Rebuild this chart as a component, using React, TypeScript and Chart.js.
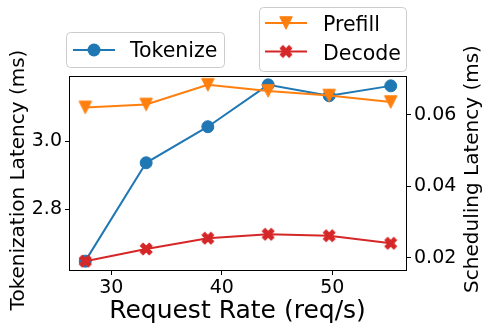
import React, { useEffect, useRef } from "react";
import { Chart, registerables } from "chart.js";

Chart.register(...registerables);

// ---- data ----
const requestRates = [27.65, 33.16, 38.74, 44.2, 49.72, 55.29];
const tokenizeLatency = [2.647, 2.936, 3.042, 3.165, 3.133, 3.162];
const prefillLatency = [0.062, 0.0628, 0.0683, 0.0666, 0.0653, 0.0635];
const decodeLatency = [0.0191, 0.0225, 0.0255, 0.0266, 0.0262, 0.0241];
const xTicks = [30, 40, 50];
const leftTicks = [2.8, 3.0];
const rightTicks = [0.02, 0.04, 0.06];
const seriesNames = ["Tokenize", "Prefill", "Decode"];
const xLabel = "Request Rate (req/s)";
const leftLabel = "Tokenization Latency (ms)";
const rightLabel = "Scheduling Latency (ms)";

const BLUE = "#1f77b4";
const ORANGE = "#ff7f0e";
const RED = "#d62728";
const FONT = '"DejaVu Sans", sans-serif';

function makeTriangleDown(size: number, color: string) {
  const dim = 18;
  const c = document.createElement("canvas");
  c.width = dim;
  c.height = dim;
  const ctx = c.getContext("2d")!;
  const cx = dim / 2, cy = dim / 2, h = size / 2;
  ctx.beginPath();
  ctx.moveTo(cx - h, cy - h);
  ctx.lineTo(cx + h, cy - h);
  ctx.lineTo(cx, cy + h);
  ctx.closePath();
  ctx.fillStyle = color;
  ctx.fill();
  ctx.strokeStyle = color;
  ctx.lineWidth = 1;
  ctx.stroke();
  return c;
}

function makeXFilled(size: number, color: string) {
  const dim = 18;
  const c = document.createElement("canvas");
  c.width = dim;
  c.height = dim;
  const ctx = c.getContext("2d")!;
  const pts = [[-1, -3], [1, -3], [1, -1], [3, -1], [3, 1], [1, 1], [1, 3], [-1, 3], [-1, 1], [-3, 1], [-3, -1], [-1, -1]];
  const s = size / 6;
  const cos = Math.cos(Math.PI / 4), sin = Math.sin(Math.PI / 4);
  ctx.beginPath();
  pts.forEach(([px, py], i) => {
    const x = (px * cos - py * sin) * s + dim / 2;
    const y = (px * sin + py * cos) * s + dim / 2;
    if (i === 0) ctx.moveTo(x, y);
    else ctx.lineTo(x, y);
  });
  ctx.closePath();
  ctx.fillStyle = color;
  ctx.fill();
  ctx.strokeStyle = color;
  ctx.lineWidth = 1;
  ctx.stroke();
  return c;
}

export default function App() {
  const ref = useRef<HTMLCanvasElement | null>(null);

  useEffect(() => {
    if (!ref.current) return;
    const tri = makeTriangleDown(12.5, ORANGE);
    const xm = makeXFilled(13, RED);

    const drawMarker = (ctx: CanvasRenderingContext2D, kind: number, x: number, y: number) => {
      if (kind === 0) {
        ctx.beginPath();
        ctx.arc(x, y, 6.5, 0, Math.PI * 2);
        ctx.fillStyle = BLUE;
        ctx.fill();
      } else {
        const img = kind === 1 ? tri : xm;
        ctx.drawImage(img, x - img.width / 2, y - img.height / 2);
      }
    };

    const overlay = {
      id: "overlay",
      afterDraw(chart: any) {
        const ctx: CanvasRenderingContext2D = chart.ctx;
        const a = chart.chartArea;
        ctx.save();
        // frame
        ctx.strokeStyle = "#000";
        ctx.lineWidth = 1;
        ctx.strokeRect(Math.round(a.left) - 0.5, Math.round(a.top) + 0.5, Math.round(a.right - a.left) + 1, Math.round(a.bottom - a.top));

        // axis titles
        ctx.fillStyle = "#000";
        ctx.textBaseline = "alphabetic";
        ctx.textAlign = "center";
        ctx.font = `25px ${FONT}`;
        ctx.fillText(xLabel, 237.5, 318);
        ctx.font = `20px ${FONT}`;
        ctx.save();
        ctx.translate(24, 180);
        ctx.rotate(-Math.PI / 2);
        ctx.fillText(leftLabel, 0, 0);
        ctx.restore();
        ctx.save();
        ctx.translate(478, 169);
        ctx.rotate(-Math.PI / 2);
        ctx.fillText(rightLabel, 0, 0);
        ctx.restore();

        // legends
        const box = (x: number, y: number, w: number, h: number) => {
          ctx.beginPath();
          (ctx as any).roundRect(x, y, w, h, 4);
          ctx.fillStyle = "rgba(255,255,255,0.8)";
          ctx.fill();
          ctx.strokeStyle = "#cccccc";
          ctx.lineWidth = 1;
          ctx.stroke();
        };
        const entry = (kind: number, color: string, x0: number, x1: number, y: number, tx: number, ty: number) => {
          ctx.beginPath();
          ctx.moveTo(x0, y);
          ctx.lineTo(x1, y);
          ctx.strokeStyle = color;
          ctx.lineWidth = 2;
          ctx.stroke();
          drawMarker(ctx, kind, (x0 + x1) / 2, y);
          ctx.fillStyle = "#000";
          ctx.font = `20.5px ${FONT}`;
          ctx.textAlign = "left";
          ctx.textBaseline = "alphabetic";
          ctx.fillText(seriesNames[kind], tx, ty);
        };
        box(66.5, 32.5, 158, 35);
        entry(0, BLUE, 73, 115, 50, 130, 56.5);
        box(259.5, 7.5, 147, 64);
        entry(1, ORANGE, 265, 307, 23, 323, 31);
        entry(2, RED, 265, 307, 51.5, 323, 59.5);
        ctx.restore();
      },
    };

    const tickFont = { family: FONT, size: 19 };
    const gridOpts = {
      display: true,
      drawOnChartArea: false,
      drawTicks: true,
      tickLength: 5,
      tickColor: "#000",
      tickWidth: 1,
    };

    const chart = new Chart(ref.current, {
      type: "line",
      data: {
        datasets: [
          {
            label: seriesNames[0],
            data: requestRates.map((x, i) => ({ x, y: tokenizeLatency[i] })),
            yAxisID: "y",
            borderColor: BLUE,
            backgroundColor: BLUE,
            borderWidth: 2,
            pointStyle: "circle",
            pointRadius: 6,
            pointBorderWidth: 1,
            pointBorderColor: BLUE,
            pointBackgroundColor: BLUE,
            order: 2,
          },
          {
            label: seriesNames[1],
            data: requestRates.map((x, i) => ({ x, y: prefillLatency[i] })),
            yAxisID: "y1",
            borderColor: ORANGE,
            backgroundColor: ORANGE,
            borderWidth: 2,
            pointStyle: tri as any,
            pointRadius: 7,
            order: 1,
          },
          {
            label: seriesNames[2],
            data: requestRates.map((x, i) => ({ x, y: decodeLatency[i] })),
            yAxisID: "y1",
            borderColor: RED,
            backgroundColor: RED,
            borderWidth: 2,
            pointStyle: xm as any,
            pointRadius: 7,
            order: 0,
          },
        ],
      },
      options: {
        responsive: false,
        animation: false,
        events: [],
        devicePixelRatio: 1,
        layout: { padding: { top: 76, left: 0, right: 0, bottom: 0 } },
        plugins: { legend: { display: false }, tooltip: { enabled: false } },
        scales: {
          x: {
            type: "linear",
            position: "bottom",
            min: 26.27,
            max: 56.67,
            afterBuildTicks: (axis: any) => {
              axis.ticks = xTicks.map((v) => ({ value: v }));
            },
            afterFit: (s: any) => {
              s.height = 63;
            },
            ticks: {
              font: tickFont,
              color: "#000",
              padding: 2,
              maxRotation: 0,
              callback: (v: any) => String(v),
            },
            grid: gridOpts,
            border: { display: false },
          },
          y: {
            type: "linear",
            position: "left",
            min: 2.621,
            max: 3.191,
            afterBuildTicks: (axis: any) => {
              axis.ticks = leftTicks.map((v) => ({ value: v }));
            },
            afterFit: (s: any) => {
              s.width = 70;
            },
            ticks: {
              font: tickFont,
              color: "#000",
              padding: 3,
              callback: (v: any) => Number(v).toFixed(1),
            },
            grid: gridOpts,
            border: { display: false },
          },
          y1: {
            type: "linear",
            position: "right",
            min: 0.01664,
            max: 0.07076,
            afterBuildTicks: (axis: any) => {
              axis.ticks = rightTicks.map((v) => ({ value: v }));
            },
            afterFit: (s: any) => {
              s.width = 83;
            },
            ticks: {
              font: tickFont,
              color: "#000",
              padding: 3,
              callback: (v: any) => Number(v).toFixed(2),
            },
            grid: gridOpts,
            border: { display: false },
          },
        },
      },
      plugins: [overlay],
    } as any);

    return () => chart.destroy();
  }, []);

  return (
    <div style={{ position: "fixed", left: 0, top: 0, width: 489, height: 333, background: "#fff" }}>
      <canvas ref={ref} width={489} height={333} style={{ display: "block", width: 489, height: 333 }} />
    </div>
  );
}
